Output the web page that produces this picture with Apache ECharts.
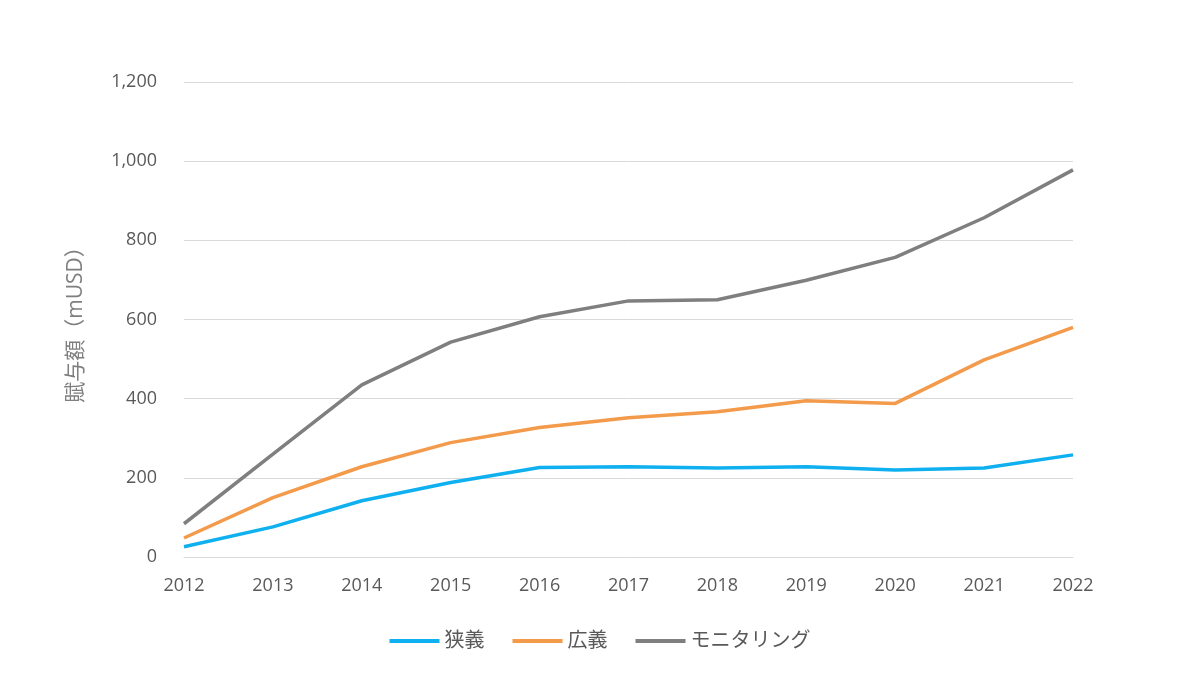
<!DOCTYPE html>
<html>
<head>
<meta charset="utf-8">
<script src="https://cdn.jsdelivr.net/npm/echarts@6/dist/echarts.min.js"></script>
<style>
html,body{margin:0;padding:0;background:#fff;}
#main{width:1200px;height:678px;}
</style>
</head>
<body>
<div id="main"></div>
<script>
const years = ['2012','2013','2014','2015','2016','2017','2018','2019','2020','2021','2022'];
const narrow = [26, 76, 142, 188, 226, 228, 225, 228, 220, 225, 258];
const broad = [48, 150, 228, 289, 327, 352, 367, 395, 388, 498, 580];
const monitoring = [84, 260, 435, 543, 607, 647, 650, 699, 757, 857, 978];
const seriesNames = ['狭義', '広義', 'モニタリング'];
const colors = ['#0fb0ef', '#f39a4b', '#7f7f7f'];

const font = '"Open Sans", "Noto Sans CJK JP", sans-serif';
const chart = echarts.init(document.getElementById('main'));
const dataSets = [narrow, broad, monitoring];
chart.setOption({
  backgroundColor: '#fff',
  animation: false,
  grid: { left: 184, right: 127, top: 82, bottom: 121 },
  legend: {
    bottom: 22,
    left: 'center',
    icon: 'rect',
    itemWidth: 50,
    itemHeight: 4,
    itemGap: 28,
    textStyle: { fontFamily: font, fontSize: 20, color: '#595959' },
    data: seriesNames
  },
  xAxis: {
    type: 'category',
    data: years,
    boundaryGap: false,
    axisLine: { show: true, lineStyle: { color: '#d9d9d9', width: 1 } },
    axisTick: { show: false },
    axisLabel: { color: '#595959', fontFamily: font, fontSize: 18, margin: 20 }
  },
  yAxis: {
    type: 'value',
    min: 0, max: 1200, interval: 200,
    name: '賦与額（mUSD）',
    nameLocation: 'middle',
    nameGap: 97,
    nameRotate: 90,
    nameTextStyle: { color: '#7f7f7f', fontFamily: font, fontSize: 21 },
    axisLine: { show: false },
    axisTick: { show: false },
    splitLine: { lineStyle: { color: '#d9d9d9', width: 1 } },
    axisLabel: {
      color: '#595959', fontFamily: font, fontSize: 18, margin: 27,
      formatter: v => v.toLocaleString('en-US')
    }
  },
  series: seriesNames.map((n, i) => ({
    name: n,
    type: 'line',
    data: dataSets[i],
    symbol: 'none',
    itemStyle: { color: colors[i] },
    lineStyle: { color: colors[i], width: 3.5 }
  }))
});
</script>
</body>
</html>
